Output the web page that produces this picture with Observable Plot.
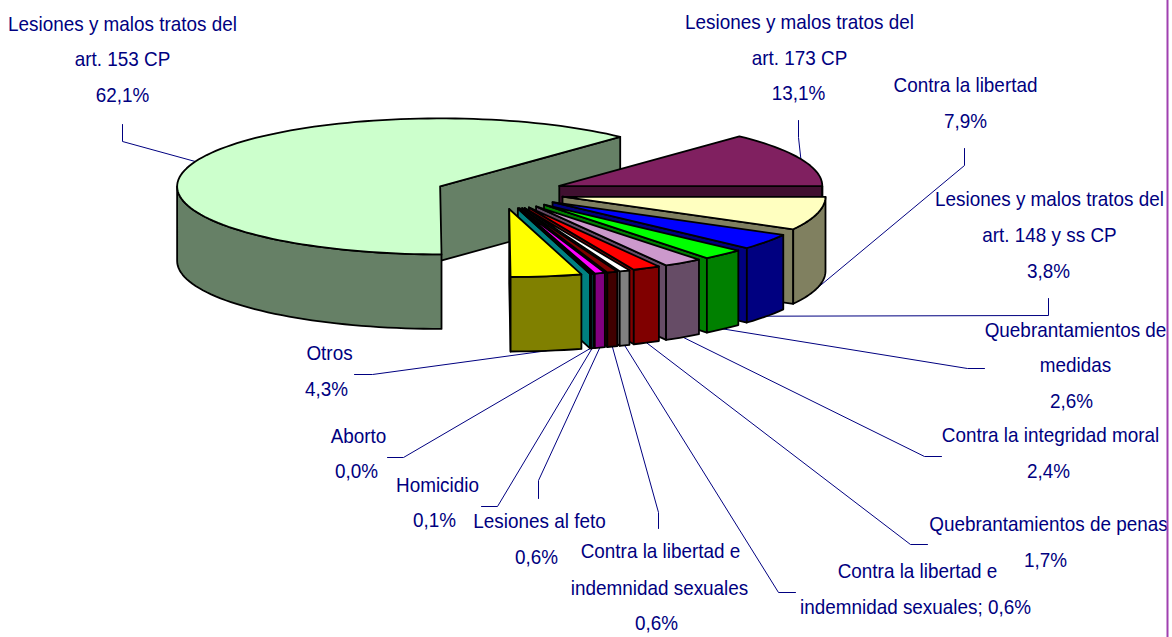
<!DOCTYPE html>
<html><head><meta charset="utf-8">
<script src="https://cdn.jsdelivr.net/npm/d3@7"></script>
<script src="https://cdn.jsdelivr.net/npm/@observablehq/plot@0.6"></script>
<style>html,body{margin:0;padding:0;background:#fff}svg{display:block}</style>
</head><body><div id="chart"></div>
<script>
const categories = ["Lesiones y malos tratos del art. 153 CP","Lesiones y malos tratos del art. 173 CP","Contra la libertad","Lesiones y malos tratos del art. 148 y ss CP","Quebrantamientos de medidas","Contra la integridad moral","Quebrantamientos de penas","Contra la libertad e indemnidad sexuales; ","Contra la libertad e indemnidad sexuales","Lesiones al feto","Homicidio","Aborto","Otros"];
// shares; each rounds to the printed one-decimal label
const values = [62.05,13.05,7.9,3.8,2.6,2.4,1.7,0.64,0.64,0.64,0.14,0.04,4.34];
const topColors = ["#CCFFCC","#802060","#FFFFC0","#0000FF","#00FF00","#CC99CC","#FF0000","#FFFFFF","#800000","#FF00FF","#00FFFF","#00FFFF","#FFFF00"];
const sideColors = ["#668066","#401030","#808060","#000080","#008000","#664C66","#800000","#808080","#400000","#800080","#008080","#008080","#808000"];
// label text lines, line centres and leader routes
const labelLines = [
 [["Lesiones y malos tratos del",122,24],["art. 153 CP",122,59],["62,1%",122,95]],
 [["Lesiones y malos tratos del",799,22],["art. 173 CP",799,58],["13,1%",798,93]],
 [["Contra la libertad",965,85],["7,9%",965,121]],
 [["Lesiones y malos tratos del",1049,199],["art. 148 y ss CP",1049,235],["3,8%",1048,271]],
 [["Quebrantamientos de",1075,330],["medidas",1075,365],["2,6%",1071,401]],
 [["Contra la integridad moral",1050,435],["2,4%",1048,471]],
 [["Quebrantamientos de penas",1048,524],["1,7%",1045,560]],
 [["Contra la libertad e",917,571],["indemnidad sexuales; 0,6%",915,607]],
 [["Contra la libertad e",660,551],["indemnidad sexuales",659,588],["0,6%",656,623]],
 [["Lesiones al feto",539,521],["0,6%",536,557]],
 [["Homicidio",437,485],["0,1%",434,520]],
 [["Aborto",358,436],["0,0%",356,471]],
 [["Otros",329,353],["4,3%",326,389]]
];
const leaderRoutes = [
 [[122,124],[122,141]],[[798,120],[798,137]],[[964,148],[964,165]],[[1048,298],[1048,315]],
 [[984,368],[967,368]],[[941,456],[924,456]],[[927,544],[910,544]],[[795,592],[778,592]],
 [[658,528],[658,512]],[[538,498],[538,480]],[[481,506],[497,506]],[[387,457],[403,457]],[[354,374],[372,374]]
];
// pie projection
const cx=499.6, cy=192, rx=263, ry=68, depth=74.5, explode=0.245, startBearing=179.7;
const total=d3.sum(values);
let acc=startBearing;
const slices=values.map((v,i)=>{let a1=acc,a2=acc+v/total*360;acc=a2;if(i===0)acc-=360;return {i,a1,a2,mid:(a1+a2)/2};});
const rad=d=>d*Math.PI/180;
const apex=s=>[cx+explode*rx*Math.sin(rad(s.mid)),cy-explode*ry*Math.cos(rad(s.mid))];
const rim=(s,b,dy=0)=>{const [ax,ay]=apex(s);return [ax+rx*Math.sin(rad(b)),ay-ry*Math.cos(rad(b))+dy];};
const arc=(s,b1,b2,dy=0)=>{const n=Math.max(2,Math.ceil(Math.abs(b2-b1)/2));return d3.range(n+1).map(k=>rim(s,b1+(b2-b1)*k/n,dy));};
const marks=[];
const face=(pts,fill)=>{const closed=[...pts,pts[0]];marks.push(Plot.line(closed,{x:d=>d[0],y:d=>d[1],fill,stroke:"#000",strokeWidth:1.8,strokeLinejoin:"round",curve:"linear"}));};
for(const s of slices){
  const p=apex(s), i=s.i, side=sideColors[i];
  const e=rim(s,s.a2);
  face([p,e,[e[0],e[1]+depth],[p[0],p[1]+depth]],side);
  const f1=Math.max(s.a1,90), f2=Math.min(s.a2,270);
  if(f2>f1) face([...arc(s,f1,f2),...arc(s,f2,f1,depth)],side);
  face([p,...arc(s,s.a1,s.a2)],topColors[i]);
}
const norm=b=>((b%360)+360)%360;
const leaders=slices.map((s,i)=>{const m=norm(s.mid),front=m>90&&m<270;return [...leaderRoutes[i],rim(s,s.mid,front?depth:0)].map(q=>({x:q[0],y:q[1],k:i}));}).flat();
const texts=labelLines.flat().map(([t,x,y])=>({t,x,y}));
const plot=Plot.plot({
  width:1172,height:637,margin:0,
  x:{domain:[0,1172],range:[0,1172],axis:null},
  y:{domain:[0,637],range:[0,637],axis:null},
  marks:[
    Plot.line(leaders,{x:"x",y:"y",z:"k",stroke:"#000080",strokeWidth:1}),
    ...marks,
    Plot.text(texts,{x:"x",y:"y",text:"t",fill:"#000080",fontSize:21,fontFamily:"Liberation Sans, Arial, sans-serif",textAnchor:"middle",lineAnchor:"middle"}),
    Plot.ruleX([1167],{stroke:"#A040B0",strokeWidth:2})
  ]
});
plot.querySelectorAll("text").forEach(t=>{t.setAttribute("transform",(t.getAttribute("transform")||"")+" scale(0.9,1)");});
document.getElementById("chart").append(plot);
</script></body></html>
